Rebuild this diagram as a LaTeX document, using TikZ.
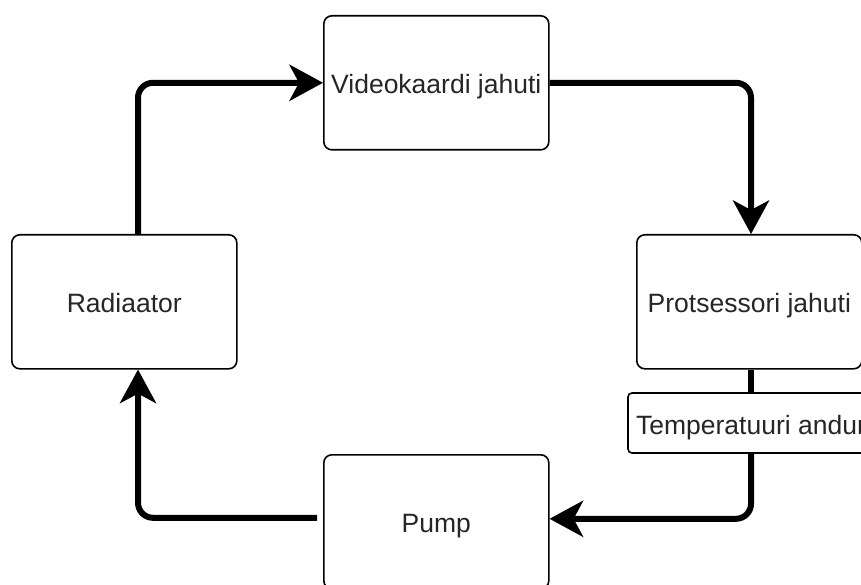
\documentclass[tikz,border=0pt]{standalone}
\usepackage{fontspec}
\setmainfont{Liberation Sans}
\usetikzlibrary{arrows.meta}
\definecolor{txt}{HTML}{262626}
\tikzset{
  label text/.style={text=txt, font=\fontsize{26.5}{31}\selectfont,
    text height=22pt, text depth=0pt},
  block/.style={draw=black, line width=1.6pt, rounded corners=8pt, fill=white,
    minimum width=225pt, minimum height=134pt, inner sep=0pt, anchor=north west,
    label text},
  tag/.style={draw=black, line width=1.6pt, rounded corners=4pt, fill=white,
    minimum width=246pt, minimum height=60pt, inner sep=0pt, label text},
  pipe/.style={line width=6pt, rounded corners=15pt},
  flow/.style={pipe, -{Stealth[length=34pt 0 0, width=37pt 0, inset=10pt 0, line width=0pt]}}
}
\begin{document}
\begin{tikzpicture}[x=1pt, y=-1pt]
  \useasboundingbox (0,0) rectangle (861,585);
  \clip (0,0) rectangle (861,585);
  % components of the cooling loop
  \node[block] (vid)  at (323,15)  {Videokaardi jahuti};
  \node[block] (rad)  at (11,234)  {Radiaator};
  \node[block] (proc) at (636,234) {Protsessori jahuti};
  \node[block] (pump) at (323,454) {Pump};
  % coolant flow
  \draw[flow] (138,0 |- rad.north) |- (vid.west);
  \draw[flow] (vid.east) -| (751,0 |- proc.north);
  \draw[pipe] (751,0 |- proc.south) -- (751,423);
  \node[tag] (sensor) at (751,423) {Temperatuuri andur};
  \draw[flow] (sensor.south) |- ([yshift=3pt]pump.east);
  \draw[flow] ([xshift=-6pt, yshift=4pt]pump.west) -| (138,0 |- rad.south);
\end{tikzpicture}
\end{document}
